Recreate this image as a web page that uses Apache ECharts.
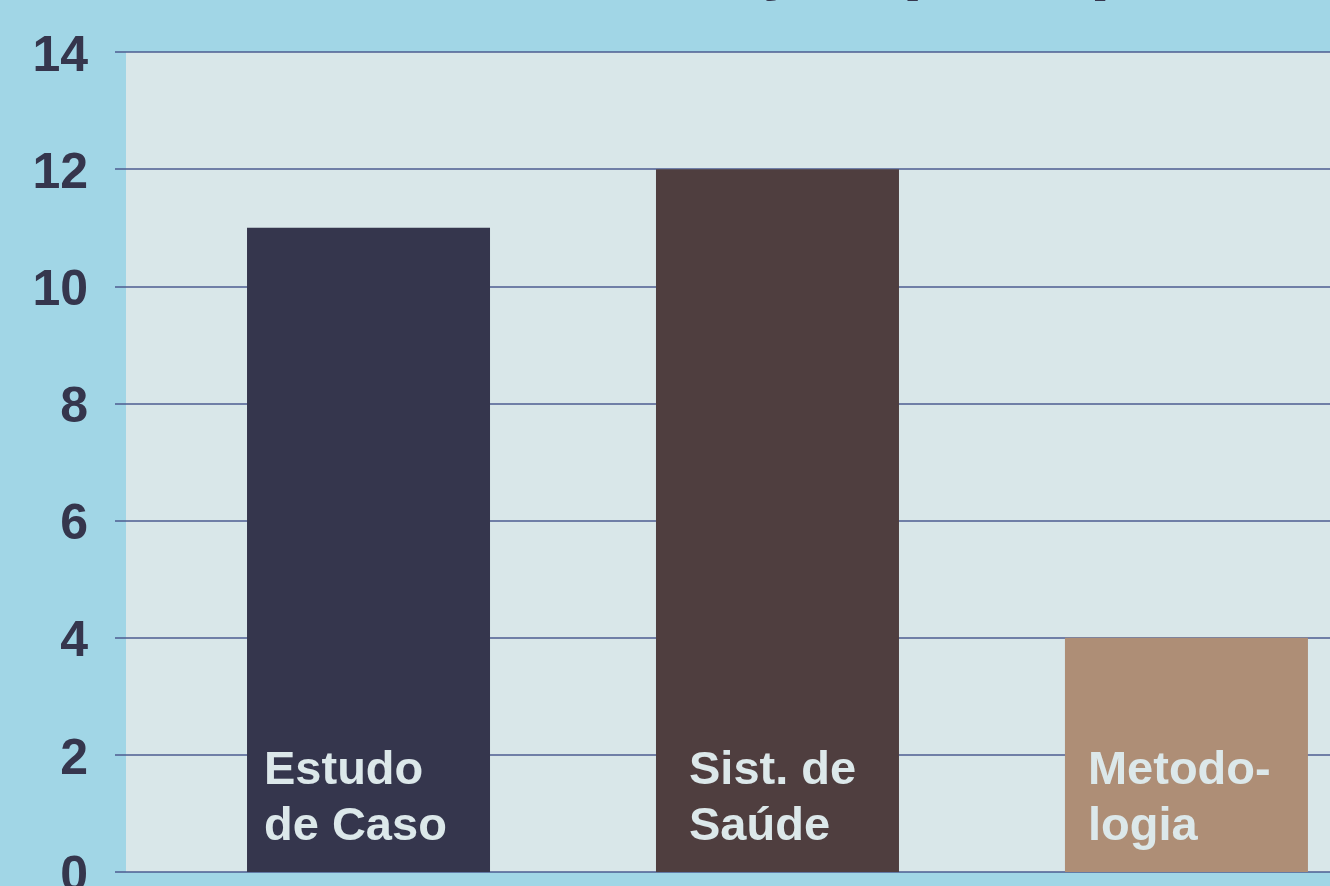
<!DOCTYPE html>
<html>
<head>
<meta charset="utf-8">
<title>Classificação por tipo</title>
<script src="https://cdn.jsdelivr.net/npm/echarts@6/dist/echarts.min.js"></script>
<style>
	html, body { margin: 0; padding: 0; background: #a1d6e6; }
	#chart { width: 1330px; height: 886px; }
</style>
</head>
<body>
<div id="chart"></div>
<script>
// dados do gráfico
var categories = ['Estudo\nde Caso', 'Sist. de\nSaúde', 'Metodo-\nlogia'];
var values = [11, 12, 4];
var barColors = ['#35364d', '#4f3e3f', '#ae8e76'];
var yMin = 0, yMax = 14, yStep = 2;
var titleText = 'Classificação por tipo';

// recuo do rótulo dentro de cada barra
var labelIndent = [17, 33, 23];

var gridColor = '#4d5c90';
var textFont = '"Liberation Sans", Arial, Helvetica, sans-serif';

var seriesData = [];
for (var i = 0; i < values.length; i++) {
	seriesData.push({
		value: [i, values[i]],
		itemStyle: { color: barColors[i] },
		label: { offset: [labelIndent[i], -17] }
	});
}

var chart = echarts.init(document.getElementById('chart'));
chart.setOption({
	animation: false,
	backgroundColor: '#a1d6e6',
	grid: {
		left: 126,
		right: 0,
		top: 52,
		bottom: 14,
		containLabel: false,
		outerBoundsMode: 'none',
		show: true,
		backgroundColor: '#d9e7e9',
		borderWidth: 0
	},
	graphic: [{
		type: 'text',
		x: 402,
		y: -35,
		silent: true,
		style: {
			text: titleText,
			font: 'bold 75px ' + textFont,
			fill: '#35364d',
			align: 'left',
			verticalAlign: 'middle'
		}
	}],
	xAxis: {
		type: 'value',
		min: -0.593,
		max: 2.351,
		show: false
	},
	yAxis: {
		type: 'value',
		min: yMin,
		max: yMax,
		interval: yStep,
		axisLine: { show: false, onZero: false },
		axisTick: {
			show: true,
			length: 11,
			lineStyle: { color: gridColor, width: 1.5 }
		},
		axisLabel: {
			margin: 38,
			verticalAlign: 'top',
			lineHeight: 10,
			fontSize: 50,
			fontWeight: 'bold',
			fontFamily: textFont,
			color: '#35364d'
		},
		splitLine: {
			lineStyle: { color: gridColor, width: 1.5 }
		}
	},
	series: [{
		type: 'bar',
		barWidth: 243,
		data: seriesData,
		label: {
			show: true,
			position: 'insideBottomLeft',
			distance: 0,
			align: 'left',
			verticalAlign: 'bottom',
			formatter: function (p) { return categories[p.dataIndex]; },
			fontSize: 47,
			fontWeight: 'bold',
			fontFamily: textFont,
			lineHeight: 56,
			color: '#dce8ea'
		}
	}]
});
</script>
</body>
</html>
